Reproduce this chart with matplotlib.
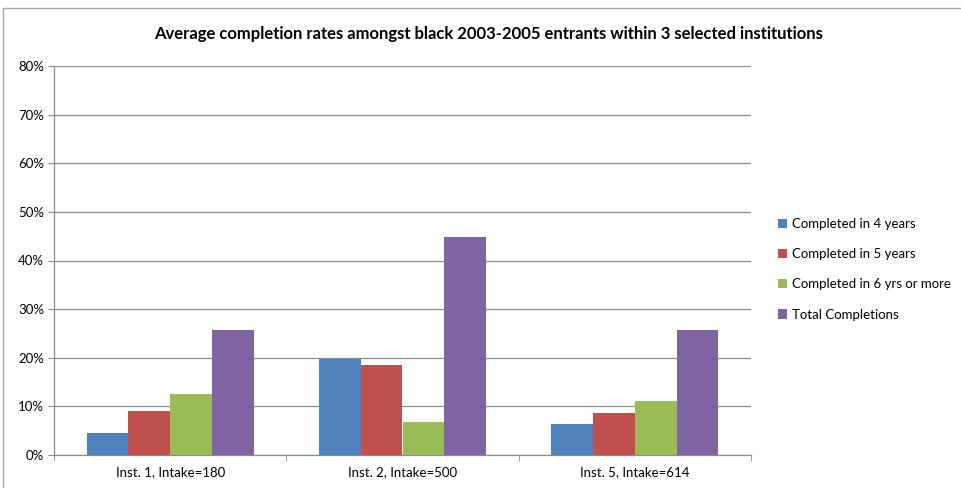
import numpy as np
import matplotlib
matplotlib.use("Agg")
from matplotlib import pyplot as plt
from matplotlib.patches import Rectangle
from matplotlib.ticker import FuncFormatter, MultipleLocator

plt.rcParams['font.family'] = ['Lato', 'DejaVu Sans']

institutions = ["Inst. 1, Intake=180", "Inst. 2, Intake=500", "Inst. 5, Intake=614"]
series_names = ["Completed in 4 years", "Completed in 5 years",
                "Completed in 6 yrs or more", "Total Completions"]
four_years = [4.5, 19.8, 6.4]
five_years = [9.1, 18.5, 8.6]
six_plus = [12.5, 6.8, 11.2]
total = [25.8, 44.8, 25.7]
colors = ["#4F81BD", "#C0504D", "#9BBB59", "#8064A2"]

fig = plt.figure(figsize=(9.62, 4.88), dpi=100)
# outer chart frame
fig.patches.append(Rectangle((3 / 962, -0.1), 1.1, 1 - 8 / 488 + 0.1, transform=fig.transFigure,
                             fill=False, edgecolor="#A6A6A6", linewidth=1.0))

ax = fig.add_axes([54 / 962, 1 - 455 / 488, 697 / 962, 389 / 488])

x = np.arange(len(institutions))
bw = 0.18
for i, (vals, name) in enumerate(zip([four_years, five_years, six_plus, total], series_names)):
    ax.bar(x + (i - 1.5) * bw, vals, width=bw, color=colors[i], label=name, zorder=3)

ax.set_xlim(-0.5, 2.5)
ax.set_ylim(0, 80)
ax.yaxis.set_major_locator(MultipleLocator(10))
ax.yaxis.set_major_formatter(FuncFormatter(lambda v, p: f"{v:.0f}%"))
ax.grid(axis="y", color="#8C8C8C", linewidth=0.9, zorder=0)

ax.set_xticks(x)
ax.set_xticklabels(institutions)
ax.set_xticks([-0.5, 0.5, 1.5, 2.5], minor=True)
ax.tick_params(axis="x", which="major", length=0, pad=8, labelsize=9.5)
ax.tick_params(axis="x", which="minor", length=4, color="#8C8C8C", direction="out")
ax.tick_params(axis="y", length=4, color="#8C8C8C", labelsize=9.5, pad=3)

for side in ["top", "right"]:
    ax.spines[side].set_visible(False)
for side in ["left", "bottom"]:
    ax.spines[side].set_color("#8C8C8C")
    ax.spines[side].set_linewidth(0.9)

fig.text(489 / 962, 1 - 34 / 488, "Average completion rates amongst black 2003-2005 entrants within 3 selected institutions",
         ha="center", va="center", fontsize=12, fontweight="bold")

fig.legend(loc="upper left", bbox_to_anchor=(766 / 962, 1 - 206 / 488), frameon=False,
           fontsize=9.5, handlelength=0.7, handleheight=0.7, handletextpad=0.4, labelspacing=1.38)

fig.savefig("out.png", dpi=100)
